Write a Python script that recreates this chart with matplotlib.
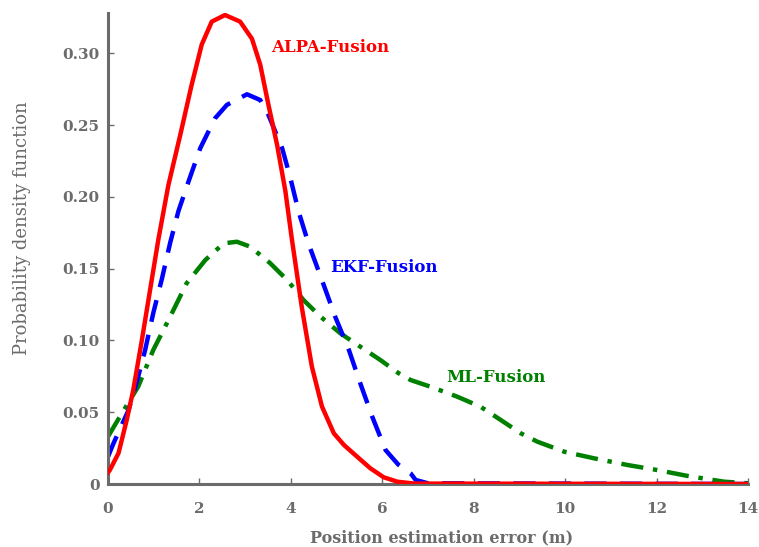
import matplotlib
matplotlib.use('Agg')
import matplotlib.pyplot as plt

# ALPA-Fusion (сплошная красная)
alpa_x = [0, 0.04, 0.23, 0.41, 0.55, 0.74, 0.92, 1.10, 1.32, 1.58, 1.83, 2.05, 2.27,
          2.56, 2.89, 3.15, 3.33, 3.51, 3.70, 3.88, 4.02, 4.24, 4.46, 4.68, 4.94, 5.16,
          5.45, 5.74, 6.03, 6.33, 6.7, 14]
alpa_y = [0.008, 0.0097, 0.0215, 0.0446, 0.065, 0.100, 0.135, 0.170, 0.208, 0.243,
          0.278, 0.306, 0.322, 0.3266, 0.322, 0.310, 0.292, 0.264, 0.236, 0.204, 0.171,
          0.123, 0.0817, 0.054, 0.0353, 0.0272, 0.019, 0.0109, 0.0047, 0.0016, 0.0003, 0]

# EKF-Fusion (пунктир синий)
ekf_x = [0, 0.12, 0.45, 0.66, 0.81, 0.99, 1.18, 1.36, 1.54, 1.76, 2.02, 2.34, 2.60,
         3.04, 3.33, 3.51, 3.81, 3.99, 4.17, 4.39, 4.68, 4.97, 5.27, 5.52, 5.78, 6.07,
         6.35, 6.62, 6.73, 7.0, 14]
ekf_y = [0.019, 0.0283, 0.0515, 0.0747, 0.093, 0.119, 0.143, 0.168, 0.190, 0.2105,
         0.234, 0.2546, 0.264, 0.2714, 0.2674, 0.257, 0.2338, 0.213, 0.1896, 0.167,
         0.142, 0.1165, 0.0933, 0.070, 0.0469, 0.0237, 0.0135, 0.0074, 0.0028, 0.0005, 0]

# ML-Fusion (штрих-пунктир зелёный)
ml_x = [0, 0.26, 0.66, 0.99, 1.36, 1.72, 2.13, 2.53, 2.82, 3.11, 3.55, 3.92, 4.28, 4.65,
        5.08, 5.52, 5.96, 6.36, 6.62, 7.05, 7.64, 8.15, 8.59, 9.03, 9.39, 9.98, 10.63,
        11.37, 12.02, 12.68, 13.48, 14]
ml_y = [0.033, 0.0469, 0.0678, 0.0933, 0.1165, 0.1398, 0.156, 0.1676, 0.1687, 0.1653,
        0.1537, 0.142, 0.128, 0.1165, 0.105, 0.0956, 0.0863, 0.0771, 0.0724, 0.0678,
        0.0608, 0.0538, 0.0446, 0.0353, 0.0295, 0.0225, 0.0179, 0.0132, 0.0097, 0.0056,
        0.0016, 0.0005]

x_ticks = [0, 2, 4, 6, 8, 10, 12, 14]
y_ticks = [0, 0.05, 0.10, 0.15, 0.20, 0.25, 0.30]
y_labels = ['0', '0.05', '0.10', '0.15', '0.20', '0.25', '0.30']

gray = '#6b6b6b'
plt.rcParams['font.family'] = ['DejaVu Serif']
plt.rcParams['font.weight'] = 'bold'

fig = plt.figure(figsize=(7.59, 5.47), dpi=100)
ax = fig.add_axes([108 / 759, 63 / 547, 640 / 759, 471 / 547])

ax.plot(alpa_x, alpa_y, color='#ff0000', lw=3.2, solid_joinstyle='round', zorder=3)
ax.plot(ekf_x, ekf_y, color='#0000ff', lw=3.2, dashes=(5, 3), zorder=2)
ax.plot(ml_x, ml_y, color='#008000', lw=3.2, dashes=(5, 2.2, 1, 2.2), zorder=1)

ax.text(3.57, 0.304, 'ALPA-Fusion', color='#ff0000', fontsize=12, fontweight='bold', va='center')
ax.text(4.87, 0.151, 'EKF-Fusion', color='#0000ff', fontsize=12, fontweight='bold', va='center')
ax.text(7.39, 0.074, 'ML-Fusion', color='#008000', fontsize=12, fontweight='bold', va='center')

ax.set_xlim(0, 14)
ax.set_ylim(0, 0.328)
ax.set_xticks(x_ticks)
ax.set_yticks(y_ticks)
ax.set_yticklabels(y_labels)

for s in ['top', 'right']:
    ax.spines[s].set_visible(False)
for s in ['left', 'bottom']:
    ax.spines[s].set_color(gray)
    ax.spines[s].set_linewidth(2.2)
ax.tick_params(direction='in', length=4, width=1, colors=gray, labelsize=11)
ax.tick_params(axis='x', pad=13)
ax.tick_params(axis='y', pad=6)
for lab in ax.get_xticklabels() + ax.get_yticklabels():
    lab.set_color(gray)

ax.set_xlabel('Position estimation error (m)', fontsize=11.5, color=gray, fontweight='bold')
ax.set_ylabel('Probability density function', fontsize=13, color=gray, fontweight='normal')
# положение подписей осей как на исходнике
ax.xaxis.set_label_coords((442 - 108) / 640, -(538 - 484) / 471)
ax.xaxis.label.set_va('center')
ax.yaxis.set_label_coords(-(108 - 22) / 640, (484 - 228) / 471)
ax.yaxis.label.set_va('center')

fig.savefig('out.png', dpi=100)
